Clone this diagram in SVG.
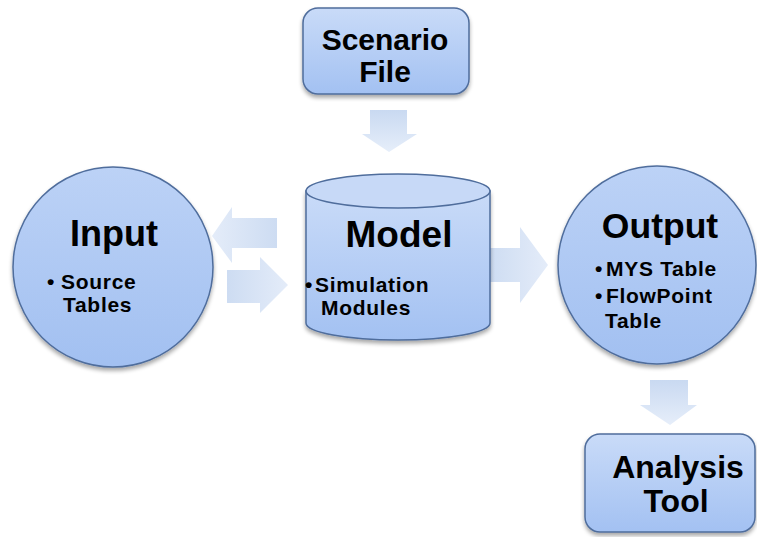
<svg xmlns="http://www.w3.org/2000/svg" width="757" height="537" viewBox="0 0 757 537">
  <defs>
    <linearGradient id="boxFill" x1="0" y1="0" x2="0" y2="1">
      <stop offset="0" stop-color="#c9dbf8"/>
      <stop offset="1" stop-color="#a3c1f2"/>
    </linearGradient>
    <linearGradient id="circFill" x1="0" y1="0" x2="0" y2="1">
      <stop offset="0" stop-color="#bcd2f6"/>
      <stop offset="1" stop-color="#a2c0f1"/>
    </linearGradient>
    <linearGradient id="arrowV" x1="0" y1="0" x2="0" y2="1">
      <stop offset="0" stop-color="#c9d9f1"/>
      <stop offset="1" stop-color="#e6eefa"/>
    </linearGradient>
    <linearGradient id="arrowH" x1="0" y1="0" x2="1" y2="0">
      <stop offset="0" stop-color="#cddcf2"/>
      <stop offset="1" stop-color="#e4ecf9"/>
    </linearGradient>
    <linearGradient id="arrowHL" x1="1" y1="0" x2="0" y2="0">
      <stop offset="0" stop-color="#cddcf2"/>
      <stop offset="1" stop-color="#e4ecf9"/>
    </linearGradient>
    <filter id="shadow" x="-10%" y="-10%" width="120%" height="125%">
      <feGaussianBlur in="SourceAlpha" stdDeviation="2"/>
      <feOffset dx="0" dy="3" result="b"/>
      <feComponentTransfer><feFuncA type="linear" slope="0.35"/></feComponentTransfer>
      <feMerge><feMergeNode/><feMergeNode in="SourceGraphic"/></feMerge>
    </filter>
  </defs>
  <style>
    .shape { stroke: #4f6d9c; stroke-width: 1.5; filter: url(#shadow); }
    .title { font-family: "Liberation Sans", Arial, sans-serif; font-weight: bold; fill: #000; }
    .item { font-family: "Liberation Sans", Arial, sans-serif; font-weight: bold; font-size: 21px; letter-spacing: 0.7px; fill: #000; }
  </style>

  <rect width="757" height="537" fill="#ffffff"/>

  <!-- connectors: block arrows -->
  <g id="connectors">
    <path d="M370,110 H407 V134 H417 L389,152 L362,134 H370 Z" fill="url(#arrowV)"/>
    <path d="M277,218 H232 V207 L212,236 L232,263 V248 H277 Z" fill="url(#arrowHL)"/>
    <path d="M227,270 H260 V257 L288,285 L260,313 V303 H227 Z" fill="url(#arrowH)"/>
    <path d="M488,248 H520 V227 L548,265 L520,303 V282 H488 Z" fill="url(#arrowH)"/>
    <path d="M650,380 H688 V405 H697 L670,425 L640,405 H650 Z" fill="url(#arrowV)"/>
  </g>

  <g id="scenario-file">
    <rect class="shape" x="303" y="8" width="166" height="86" rx="15" fill="url(#boxFill)"/>
    <text class="title" font-size="30" x="385" y="50" text-anchor="middle">Scenario</text>
    <text class="title" font-size="30" x="385" y="82" text-anchor="middle">File</text>
  </g>

  <g id="input">
    <circle class="shape" cx="113" cy="267" r="100" fill="url(#circFill)"/>
    <text class="title" font-size="36" x="114" y="246" text-anchor="middle">Input</text>
    <text class="item" y="289"><tspan x="47">•</tspan><tspan x="61">Source</tspan></text>
    <text class="item" x="63" y="312">Tables</text>
  </g>

  <g id="model">
    <path class="shape" d="M306,191 V323 A92,17 0 0 0 490,323 V191 Z" fill="url(#boxFill)"/>
    <ellipse cx="398" cy="191" rx="92" ry="17" fill="#c7d9f7" stroke="#4f6d9c" stroke-width="1.5"/>
    <text class="title" font-size="37" x="399" y="247" text-anchor="middle">Model</text>
    <text class="item" y="292"><tspan x="305">•</tspan><tspan x="315">Simulation</tspan></text>
    <text class="item" x="321" y="315">Modules</text>
  </g>

  <g id="output">
    <circle class="shape" cx="657" cy="265" r="99" fill="url(#circFill)"/>
    <text class="title" font-size="35.5" x="660" y="238" text-anchor="middle">Output</text>
    <text class="item" y="276"><tspan x="595">•</tspan><tspan x="606">MYS Table</tspan></text>
    <text class="item" y="303"><tspan x="595">•</tspan><tspan x="606">FlowPoint</tspan></text>
    <text class="item" x="605" y="328">Table</text>
  </g>

  <g id="analysis-tool">
    <rect class="shape" x="585" y="434" width="170" height="98" rx="15" fill="url(#boxFill)"/>
    <text class="title" font-size="32" x="678" y="478" text-anchor="middle">Analysis</text>
    <text class="title" font-size="32" x="676" y="512" text-anchor="middle">Tool</text>
  </g>
</svg>
